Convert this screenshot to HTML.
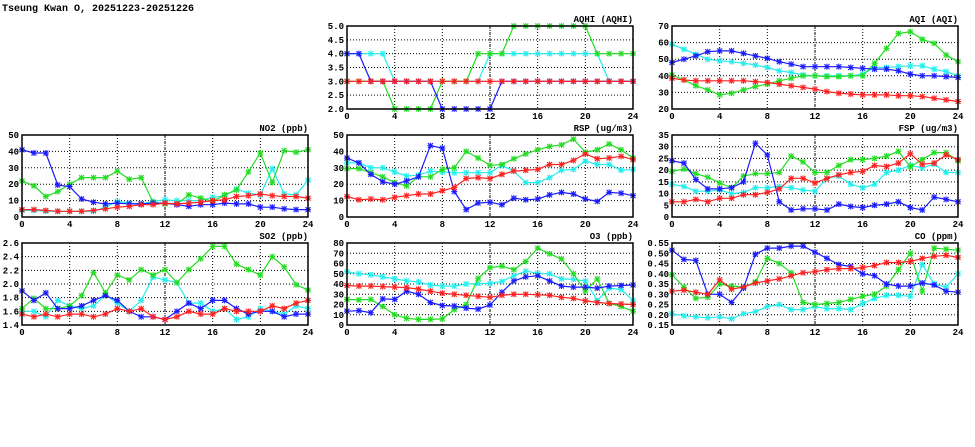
<!DOCTYPE html>
<html><head><meta charset="utf-8"><style>
html,body{margin:0;padding:0;background:#fff;width:975px;height:447px;overflow:hidden}
svg text{font-family:"Liberation Mono",monospace;font-weight:bold;font-size:9px;fill:#000}
</style></head><body>
<svg id="s" width="975" height="447" xmlns="http://www.w3.org/2000/svg">
<text x="2" y="11" style="font-size:10px">Tseung Kwan O, 20251223-20251226</text>
</svg>
<script>
const C={b:"#1a1aff",c:"#22eeee",g:"#22dd22",r:"#ff2020"};
const P=[
{t:"AQHI (AQHI)",x:347,y:26,w:286,h:83,min:2,max:5,st:.5,f:1,d:{
c:[4,4,4,4,3,3,3,3,3,3,3,3,4,4,4,4,4,4,4,4,4,4,3,3,3],
g:[3,3,3,3,2,2,2,2,3,3,3,4,4,4,5,5,5,5,5,5,5,4,4,4,4],
b:[4,4,3,3,3,3,3,3,2,2,2,2,2,3,3,3,3,3,3,3,3,3,3,3,3],
r:[3,3,3,3,3,3,3,3,3,3,3,3,3,3,3,3,3,3,3,3,3,3,3,3,3]}},
{t:"AQI (AQI)",x:672,y:26,w:286,h:83,min:20,max:70,st:10,f:0,d:{
c:[59,56,53,50,49,48.5,47.5,46.5,45,43,42,40.5,40,40,40,40,41,45,45,45.5,46,46,44,42.5,40],
g:[40.5,37.5,34,31.5,28.5,29.5,31.5,33.5,35,37,38.5,40,40,39.5,39.5,40,40,47.5,56.5,65.5,66.5,62,59.5,52.5,48.5],
b:[48,50,52,54.5,55,55,53.5,52,50.5,48.5,47,45.5,45.5,45.5,45.5,45,44.5,44,44,43,41,40,40,39.5,39],
r:[38.5,37.5,37,37,37,37,37,36.5,36,35,34,33,32,30.5,29.5,29,28.5,28.5,28.5,28,28,27.5,26.5,25.5,24.5]}},
{t:"NO2 (ppb)",x:22,y:135,w:286,h:82,min:0,max:50,st:10,f:0,d:{
c:[4,4,3.5,3.5,3.5,3.5,3.5,6,9.5,8.5,8,9.5,10.5,10,10,10,12,13,17,14.5,13.5,29.5,14,13.5,22.5],
g:[22,19,12.5,15.5,20,24,24,24,28,23,24,9,8,8,13.5,11.5,9.5,13.5,16.5,27.5,39,21,40.5,39.5,41],
b:[41,39,39,19.5,18.5,11,9,8,8.5,8,8,8.5,8.5,7.5,6.5,7.5,7.5,8.5,8,8,6,6,5,4.5,4.5],
r:[4.5,4.5,4,3.5,3.5,3.5,4,5,6,6.5,7.5,7.5,8.5,8,8.5,9,10,10.5,12.5,13,14,13,12.5,12.5,11.5]}},
{t:"RSP (ug/m3)",x:347,y:135,w:286,h:82,min:0,max:50,st:10,f:0,d:{
c:[33,33,30,30,27.5,25,25.5,28,27.5,27,27,27,27,31.5,28,21,21,24,28.5,29,34,32,32,28.5,29],
g:[29.5,29.5,27,24.5,21,19,24.5,24.5,29,30,40,36,31.5,32,35.5,38.5,41,43,44,47.5,39.5,41,44.5,41,36],
b:[36,33,26,21.5,20,22,24.5,43.5,42,15.5,4.5,8.5,9,7.5,11.5,10.5,11,13.5,15,14,11,9.5,15,14.5,13],
r:[12.5,10.5,11,10.5,12,13,14,14,16,18,23.5,24,23.5,26,28,28.5,29,32,32,34.5,38.5,35.5,36,37,35]}},
{t:"FSP (ug/m3)",x:672,y:135,w:286,h:82,min:0,max:35,st:5,f:0,d:{
c:[14,13,11,11,11.5,10,10.5,12.5,12.5,13,12.5,11.5,11,16.5,17.5,14,12.5,14,19,20,22,21,22.5,19,19],
g:[19.5,20.5,18.5,17,14.5,12.5,17.5,18.5,18.5,19,26,23.5,19,19,22,24.5,24.5,25,26,28,21.5,24.5,27.5,27.5,24],
b:[24,23,16,12,12,12.5,15,31.5,26.5,6.5,3,3.5,3.5,3,5.5,4.5,4,5,5.5,6.5,4,3,8.5,7.5,6.5],
r:[6.5,6.5,7.5,6.5,8,8,9.5,9.5,10.5,12,16.5,16.5,14.5,16.5,18,19,19.5,22,21.5,23,27,22.5,23,26.5,24.5]}},
{t:"SO2 (ppb)",x:22,y:243,w:286,h:82,min:1.4,max:2.6,st:.2,f:1,d:{
c:[1.6,1.6,1.52,1.76,1.68,1.64,1.68,1.84,1.72,1.6,1.76,2.1,2.06,2.02,1.72,1.72,1.6,1.64,1.48,1.52,1.64,1.6,1.56,1.68,1.64],
g:[1.64,1.79,1.64,1.64,1.68,1.83,2.17,1.87,2.13,2.06,2.21,2.13,2.21,2.02,2.21,2.37,2.55,2.55,2.29,2.21,2.13,2.4,2.25,1.99,1.91],
b:[1.9,1.76,1.87,1.64,1.64,1.68,1.76,1.83,1.76,1.6,1.52,1.52,1.48,1.6,1.72,1.64,1.76,1.76,1.64,1.56,1.6,1.6,1.52,1.56,1.56],
r:[1.56,1.52,1.56,1.52,1.56,1.56,1.52,1.56,1.64,1.6,1.64,1.52,1.48,1.52,1.6,1.56,1.56,1.64,1.6,1.6,1.6,1.68,1.64,1.72,1.76]}},
{t:"O3 (ppb)",x:347,y:243,w:286,h:82,min:0,max:80,st:10,f:0,d:{
c:[52,50,49,47,45,43,42,39,38,38,40,40.5,40.5,42.5,48,52.5,50.5,50,45,44.5,43,24,36,34.5,24],
g:[25,24.5,25,18,10,6.5,5.5,5.5,6,15,20,45.5,56,57.5,54,62,75,69.5,64.5,50,33,45,21,18,13.5],
b:[13.5,14,12,25.5,25,33,30,22,19,18.5,16.5,15.5,19.5,32,43,47,48,43,38,37,37,36,38,38.5,39],
r:[38.5,38,38,37.5,37,36.5,35,33,31,30,29,28,27,29,30,30,29.5,29,27,26,23.5,22,21,20.5,20]}},
{t:"CO (ppm)",x:672,y:243,w:286,h:82,min:.15,max:.55,st:.05,f:2,d:{
c:[.205,.195,.19,.185,.19,.18,.205,.215,.24,.25,.225,.225,.24,.23,.23,.225,.255,.28,.295,.295,.29,.445,.35,.335,.40],
g:[.395,.335,.28,.285,.35,.34,.335,.36,.475,.45,.405,.26,.25,.255,.26,.275,.29,.30,.34,.42,.50,.315,.525,.52,.515],
b:[.515,.47,.465,.30,.30,.26,.33,.495,.525,.525,.535,.535,.505,.475,.445,.435,.40,.39,.35,.34,.34,.355,.345,.315,.31],
r:[.315,.32,.31,.30,.37,.325,.335,.355,.365,.375,.39,.405,.41,.42,.425,.425,.43,.44,.455,.455,.46,.475,.485,.49,.48]}}
];
let h="";
for(const p of P){
 const X=i=>p.x+i*p.w/24, Y=v=>p.y+p.h-(v-p.min)/(p.max-p.min)*p.h;
 h+=`<text x="${p.x+p.w}" y="${p.y-4}" text-anchor="end">${p.t}</text>`;
 const n=Math.round((p.max-p.min)/p.st);
 for(let k=0;k<=n;k++){const v=p.min+k*p.st,y=Y(v);
  if(k>0&&k<n)h+=`<line x1="${p.x}" x2="${p.x+p.w}" y1="${y}" y2="${y}" stroke="#000" stroke-width="1" stroke-dasharray="1,2"/>`;
  let lab=v.toFixed(p.f);
  h+=`<text x="${p.x-3}" y="${y+3}" text-anchor="end">${lab}</text>`;}
 for(let i=0;i<=24;i+=4){const x=X(i);
  if(i>0&&i<24)h+=`<line x1="${x}" x2="${x}" y1="${p.y}" y2="${p.y+p.h}" stroke="#000" stroke-width="1" stroke-dasharray="${i==12?'3,1,1,1':'1,2'}"/>`;
  h+=`<text x="${x}" y="${p.y+p.h+10}" text-anchor="middle">${i}</text>`;}
 for(const k of ["c","g","b","r"]){const a=p.d[k],col=C[k];
  h+=`<polyline fill="none" stroke="${col}" stroke-width="1.2" points="${a.map((v,i)=>X(i).toFixed(1)+","+Y(v).toFixed(1)).join(" ")}"/>`;
  for(let i=0;i<a.length;i++){const x=X(i),y=Y(a[i]);
   h+=`<rect x="${x-2.5}" y="${y-2.5}" width="5" height="5" fill="${col}" opacity="0.2"/><path d="M${x-2.5} ${y-2.5}L${x+2.5} ${y+2.5}M${x-2.5} ${y+2.5}L${x+2.5} ${y-2.5}M${x} ${y-3}V${y+3}M${x-3} ${y}H${x+3}" stroke="${col}" stroke-width="1"/>`;}
 }
 h+=`<rect x="${p.x}" y="${p.y}" width="${p.w}" height="${p.h}" fill="none" stroke="#000" stroke-width="1.5"/>`;
}
document.getElementById("s").insertAdjacentHTML("beforeend",h);
</script>
</body></html>
